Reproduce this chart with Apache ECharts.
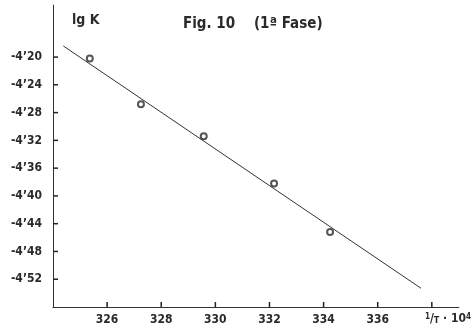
<!DOCTYPE html>
<html>
<head>
<meta charset="utf-8">
<script src="https://cdn.jsdelivr.net/npm/echarts@6/dist/echarts.min.js"></script>
<style>
  html, body { margin: 0; padding: 0; background: #fff; }
  #chart { width: 474px; height: 331px; }
</style>
</head>
<body>
<div id="chart"></div>
<script>
// Measured points: 1/T·10^4 against lg K
const invT = [325.36, 327.25, 329.57, 332.17, 334.24];
const lgK = [-4.202, -4.268, -4.314, -4.382, -4.452];

// Fitted straight line, drawn between its two end points
const fitX = [324.38, 337.6];
const fitY = [-4.184, -4.533];

// Tick and label values
const xTicks = [326, 328, 330, 332, 334, 336, 338];
const xLabels = [326, 328, 330, 332, 334, 336];
const yLabels = [-4.20, -4.24, -4.28, -4.32, -4.36, -4.40, -4.44, -4.48, -4.52];

// Axis extents
const xMin = 324, xMax = 339;
const yMin = -4.56, yMax = -4.125;

const ink = '#2a2a2a';
const font = 'DejaVu Sans Condensed';
const near = (v, list) => list.some(t => Math.abs(t - v) < 1e-6);

// Short inward tick marks, drawn through the axis scales
function xTickItem(params, api) {
  const p = api.coord([api.value(0), yMin]);
  return {
    type: 'line',
    shape: { x1: p[0], y1: p[1], x2: p[0], y2: p[1] - 5 },
    style: { stroke: '#222', lineWidth: 1.5 }
  };
}
function yTickItem(params, api) {
  const p = api.coord([xMin, api.value(0)]);
  return {
    type: 'line',
    shape: { x1: p[0], y1: p[1], x2: p[0] + 5, y2: p[1] },
    style: { stroke: '#222', lineWidth: 1.5 }
  };
}

const chart = echarts.init(document.getElementById('chart'));
chart.setOption({
  animation: false,
  backgroundColor: '#fff',
  title: {
    text: 'Fig. 10    (1ª Fase)',
    left: 178,
    top: 12,
    textStyle: { color: ink, fontFamily: font, fontSize: 15, fontWeight: 'bold' }
  },
  grid: { left: 53, right: 12, top: 5, bottom: 24 },
  xAxis: {
    type: 'value',
    min: xMin,
    max: xMax,
    interval: 2,
    name: '{s|1}/{t|T} · 10{s|4}',
    nameLocation: 'end',
    nameGap: -34,
    nameTextStyle: {
      color: ink, fontFamily: font, fontSize: 12, fontWeight: 'bold',
      align: 'left', verticalAlign: 'top', padding: [6, 0, 0, 0],
      rich: {
        s: { fontSize: 8, fontFamily: font, fontWeight: 'bold', color: ink, verticalAlign: 'top' },
        t: { fontSize: 9, fontFamily: font, fontWeight: 'bold', color: ink, verticalAlign: 'bottom' }
      }
    },
    splitLine: { show: false },
    axisLine: { show: true, onZero: false, lineStyle: { color: '#333', width: 1 } },
    axisTick: { show: false },
    axisLabel: {
      margin: 7,
      customValues: xLabels,
      color: ink, fontFamily: font, fontSize: 12, fontWeight: 'bold',
      formatter: v => near(v, xLabels) ? String(v) : ''
    }
  },
  yAxis: {
    type: 'value',
    min: yMin,
    max: yMax,
    interval: 0.04,
    name: 'lg K',
    nameLocation: 'end',
    nameGap: -22,
    nameTextStyle: {
      color: ink, fontFamily: font, fontSize: 14, fontWeight: 'bold',
      align: 'left', padding: [0, 0, 0, 19]
    },
    splitLine: { show: false },
    axisLine: { show: true, onZero: false, lineStyle: { color: '#333', width: 1 } },
    axisTick: { show: false },
    axisLabel: {
      margin: 11,
      showMaxLabel: false,
      color: ink, fontFamily: font, fontSize: 12, fontWeight: 'bold',
      formatter: v => near(v, yLabels) ? v.toFixed(2).replace('.', '’') : ''
    }
  },
  series: [
    {
      type: 'custom',
      silent: true,
      renderItem: xTickItem,
      data: xTicks.map(x => [x]),
      encode: { x: 0 },
      z: 5
    },
    {
      type: 'custom',
      silent: true,
      renderItem: yTickItem,
      data: yLabels.map(y => [y]),
      encode: { y: 0 },
      z: 5
    },
    {
      type: 'line',
      data: fitX.map((x, i) => [x, fitY[i]]),
      showSymbol: false,
      lineStyle: { color: '#333', width: 1 },
      z: 2
    },
    {
      type: 'scatter',
      data: invT.map((x, i) => [x, lgK[i]]),
      symbol: 'emptyCircle',
      symbolSize: 6,
      itemStyle: { color: ink, borderColor: ink, borderWidth: 1.3 },
      z: 3
    }
  ]
});
</script>
</body>
</html>
